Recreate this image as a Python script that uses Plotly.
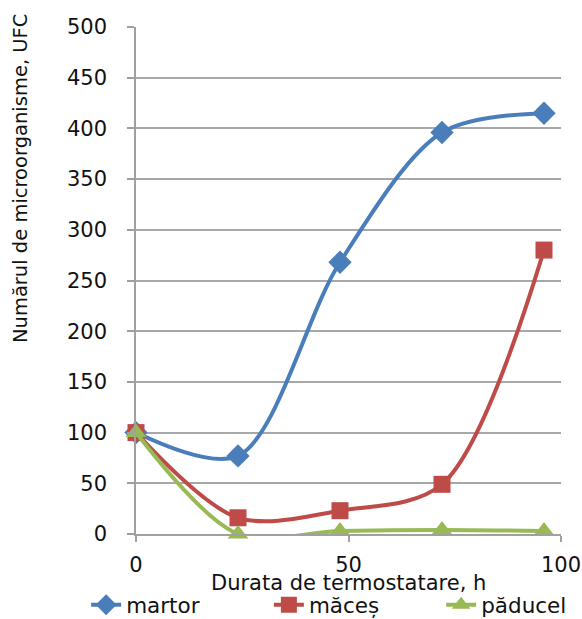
import plotly.graph_objects as go

# Incubation time (h) and microorganism counts (UFC) per sample
hours = [0, 24, 48, 72, 96]
martor = [100, 77, 268, 396, 415]
maces = [100, 16, 23, 49, 280]
paducel = [100, 0, 3, 4, 3]

x_title = "Durata de termostatare, h"
y_title = "Numărul de microorganisme, UFC"

# name, values, colour, marker symbol, marker size, legend id, legend x (container)
series = [
    ("martor", martor, "#4A7EBB", "diamond", 18, "legend", 0.148),
    ("măceș", maces, "#BE4B48", "square", 17, "legend2", 0.462),
    ("păducel", paducel, "#98B954", "triangle-up", 18, "legend3", 0.758),
]

fig = go.Figure()
for name, vals, color, symbol, size, leg, _ in series:
    fig.add_trace(go.Scatter(
        x=hours, y=vals, name=name, mode="lines+markers",
        line=dict(color=color, width=4, shape="spline", smoothing=0.9),
        marker=dict(symbol=symbol, size=size, color=color),
        cliponaxis=False, legend=leg,
    ))

font_family = "DejaVu Sans, sans-serif"
text_color = "#111111"

legends = {}
for _, _, _, _, _, leg, lx in series:
    legends[leg] = dict(orientation="h", xref="container", x=lx, xanchor="left",
                        yref="container", y=0.023, yanchor="middle",
                        font=dict(size=21.5), bgcolor="rgba(0,0,0,0)")

fig.update_layout(
    width=582, height=619,
    margin=dict(l=136, r=21, t=27, b=85, autoexpand=False),
    paper_bgcolor="white", plot_bgcolor="white",
    font=dict(family=font_family, color=text_color, size=21),
    showlegend=True,
    **legends,
    xaxis=dict(
        range=[0, 100], tickvals=[0, 50, 100], showgrid=False,
        ticks="outside", ticklen=6, tickcolor="#A0A0A0", tickwidth=1.5,
        showline=True, linecolor="#A0A0A0", linewidth=1.5,
        tickfont=dict(size=21), tickangle=0, ticklabelstandoff=5,
        zeroline=False, automargin=False,
    ),
    yaxis=dict(
        range=[0, 500], dtick=50, showgrid=True, gridcolor="#A8A8A8", gridwidth=1.5,
        ticks="outside", ticklen=7, tickcolor="#A0A0A0", tickwidth=1.5,
        showline=True, linecolor="#A0A0A0", linewidth=1.5, zeroline=False,
        tickfont=dict(size=21), ticklabelstandoff=16, automargin=False,
    ),
    annotations=[
        dict(text=x_title, xref="paper", yref="paper", x=0.5, y=-0.096,
             xanchor="center", yanchor="middle", showarrow=False,
             font=dict(size=21, color=text_color)),
        dict(text=y_title, xref="paper", yref="paper", x=-0.273, y=0.702,
             xanchor="center", yanchor="middle", textangle=-90, showarrow=False,
             font=dict(size=19.5, color=text_color)),
    ],
)

fig.write_html("out.html")
